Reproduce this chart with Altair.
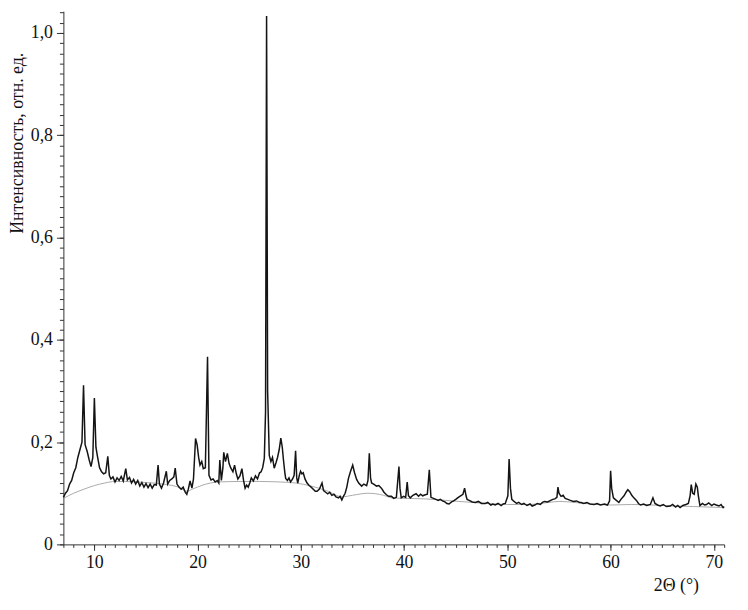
import altair as alt
import pandas as pd

# Main diffraction pattern (2Theta, intensity)
two_theta = [
    7.0, 7.2, 7.4, 7.6, 7.8, 8.0, 8.2, 8.4, 8.6, 8.8, 8.95, 9.1, 9.3, 9.5, 9.68, 9.85, 10.0, 10.15, 10.3, 10.5,
    10.7, 10.9, 11.1, 11.3, 11.45, 11.6, 11.8, 12.0, 12.2, 12.4, 12.6, 12.8, 13.04, 13.2, 13.4, 13.6, 13.8, 14.0,
    14.2, 14.4, 14.6, 14.8, 15.0, 15.2, 15.4, 15.6, 15.8, 16.0, 16.17, 16.3, 16.5, 16.7, 16.97, 17.1, 17.3, 17.5,
    17.7, 17.83, 18.0, 18.2, 18.4, 18.6, 18.8, 18.95, 19.1, 19.27, 19.45, 19.6, 19.8, 19.95, 20.1, 20.23, 20.4,
    20.55, 20.75, 20.96, 21.1, 21.3, 21.5, 21.7, 21.9, 22.05, 22.15, 22.3, 22.45, 22.53, 22.7, 22.88, 23.05, 23.2,
    23.42, 23.58, 23.75, 23.9, 24.1, 24.29, 24.45, 24.6, 24.75, 24.9, 25.05, 25.2, 25.4, 25.6, 25.8, 26.0, 26.15,
    26.3, 26.46, 26.58, 26.68, 26.78, 26.94, 27.1, 27.25, 27.42, 27.6, 27.74, 27.9, 28.06, 28.2, 28.3, 28.45,
    28.53, 28.7, 28.85, 29.0, 29.2, 29.35, 29.49, 29.6, 29.7, 29.85, 29.97, 30.1, 30.23, 30.4, 30.6, 30.8, 31.0,
    31.2, 31.4, 31.57, 31.8, 32.05, 32.2, 32.4, 32.6, 32.8, 33.0, 33.2, 33.4, 33.65, 33.8, 33.97, 34.15, 34.29,
    34.45, 34.61, 34.8, 35.02, 35.2, 35.4, 35.6, 35.89, 36.1, 36.37, 36.5, 36.63, 36.75, 36.85, 37.05, 37.33,
    37.55, 37.8, 38.05, 38.29, 38.5, 38.77, 39.0, 39.25, 39.5, 39.6, 39.72, 39.95, 40.15, 40.3, 40.42, 40.6,
    40.85, 41.16, 41.4, 41.6, 41.8, 42.05, 42.25, 42.44, 42.6, 42.85, 43.08, 43.3, 43.5, 43.72, 43.95, 44.15,
    44.35, 44.6, 44.8, 45.0, 45.25, 45.47, 45.7, 45.86, 46.0, 46.1, 46.3, 46.6, 46.9, 47.2, 47.5, 47.86, 48.1,
    48.4, 48.6, 48.82, 49.1, 49.4, 49.6, 49.8, 50.05, 50.17, 50.3, 50.43, 50.65, 50.9, 51.1, 51.39, 51.6, 51.9,
    52.2, 52.4, 52.66, 52.9, 53.2, 53.4, 53.6, 53.9, 54.2, 54.4, 54.6, 54.8, 54.9, 55.0, 55.2, 55.4, 55.6, 55.86,
    56.1, 56.4, 56.7, 57.0, 57.14, 57.4, 57.7, 58.0, 58.4, 58.7, 59.0, 59.4, 59.7, 59.9, 60.0, 60.1, 60.27, 60.5,
    60.8, 61.0, 61.3, 61.5, 61.67, 61.85, 62.05, 62.25, 62.5, 62.7, 62.9, 63.2, 63.5, 63.85, 64.1, 64.3, 64.55,
    64.8, 65.1, 65.4, 65.77, 66.0, 66.3, 66.5, 66.73, 67.0, 67.3, 67.53, 67.7, 67.81, 67.95, 68.1, 68.26, 68.4,
    68.5, 68.65, 68.9, 69.1, 69.28, 69.5, 69.8, 70.0, 70.24, 70.5, 70.7, 70.9, 71.0,
]
intensity = [
    0.092, 0.100, 0.105, 0.118, 0.125, 0.140, 0.150, 0.170, 0.185, 0.200, 0.311, 0.195, 0.182, 0.165, 0.152, 0.170, 0.286, 0.190, 0.172, 0.150,
    0.142, 0.138, 0.140, 0.172, 0.135, 0.128, 0.132, 0.122, 0.130, 0.125, 0.133, 0.124, 0.148, 0.126, 0.131, 0.120, 0.127, 0.118,
    0.125, 0.114, 0.121, 0.112, 0.119, 0.111, 0.118, 0.110, 0.117, 0.116, 0.155, 0.118, 0.110, 0.120, 0.143, 0.118, 0.125, 0.128,
    0.132, 0.149, 0.118, 0.112, 0.108, 0.112, 0.102, 0.098, 0.108, 0.124, 0.110, 0.128, 0.207, 0.195, 0.170, 0.155, 0.162,
    0.148, 0.150, 0.367, 0.135, 0.126, 0.128, 0.122, 0.125, 0.120, 0.165, 0.125, 0.150, 0.180, 0.162, 0.178, 0.158, 0.150,
    0.142, 0.155, 0.138, 0.128, 0.134, 0.148, 0.125, 0.110, 0.116, 0.112, 0.120, 0.130, 0.124, 0.134, 0.128, 0.140, 0.142,
    0.150, 0.168, 0.260, 1.033, 0.300, 0.174, 0.162, 0.170, 0.149, 0.160, 0.170, 0.185, 0.208, 0.190, 0.168, 0.140,
    0.129, 0.125, 0.130, 0.122, 0.128, 0.135, 0.183, 0.130, 0.120, 0.135, 0.143, 0.138, 0.140, 0.128, 0.120, 0.115, 0.112,
    0.108, 0.104, 0.104, 0.108, 0.120, 0.105, 0.102, 0.099, 0.102, 0.096, 0.098, 0.093, 0.091, 0.094, 0.087, 0.095, 0.100,
    0.112, 0.129, 0.142, 0.155, 0.140, 0.127, 0.120, 0.114, 0.118, 0.115, 0.125, 0.178, 0.130, 0.120, 0.118, 0.114,
    0.115, 0.110, 0.102, 0.097, 0.094, 0.094, 0.090, 0.092, 0.152, 0.110, 0.091, 0.094, 0.092, 0.122, 0.095, 0.091,
    0.096, 0.099, 0.094, 0.098, 0.095, 0.097, 0.098, 0.146, 0.092, 0.090, 0.088, 0.086, 0.088, 0.085, 0.083, 0.080,
    0.079, 0.083, 0.085, 0.088, 0.092, 0.095, 0.098, 0.110, 0.095, 0.088, 0.086, 0.083, 0.082, 0.084, 0.080, 0.080, 0.082,
    0.077, 0.079, 0.077, 0.080, 0.076, 0.079, 0.080, 0.095, 0.167, 0.110, 0.088, 0.084, 0.080, 0.082, 0.078, 0.080, 0.076,
    0.079, 0.075, 0.077, 0.080, 0.078, 0.082, 0.084, 0.083, 0.086, 0.088, 0.089, 0.092, 0.112, 0.100, 0.094, 0.096, 0.090, 0.088,
    0.086, 0.084, 0.085, 0.082, 0.082, 0.080, 0.082, 0.079, 0.078, 0.080, 0.077, 0.079, 0.077, 0.085, 0.144, 0.110, 0.091, 0.087,
    0.082, 0.088, 0.095, 0.102, 0.107, 0.103, 0.096, 0.091, 0.086, 0.080, 0.077, 0.079, 0.076, 0.078, 0.091, 0.080, 0.077,
    0.075, 0.078, 0.074, 0.075, 0.078, 0.073, 0.076, 0.072, 0.076, 0.078, 0.080, 0.095, 0.117, 0.100, 0.098, 0.118, 0.112,
    0.095, 0.076, 0.080, 0.077, 0.078, 0.081, 0.076, 0.079, 0.077, 0.075, 0.078, 0.072, 0.074,
]

# Smooth background (amorphous halo) curve
bg_theta = [7, 8, 9, 10, 11, 12, 13, 15, 17, 18, 19, 19.5, 20.5, 22, 24, 26, 28, 29.5, 31, 32.5, 34, 35, 36.5,
            38, 38.8, 40, 42, 44, 46, 48, 50, 52, 54, 55, 56, 58, 60, 62, 64, 66, 68, 71]
bg_intensity = [0.090, 0.100, 0.108, 0.115, 0.120, 0.123, 0.123, 0.121, 0.117, 0.113, 0.104, 0.108, 0.116, 0.122,
                0.123, 0.123, 0.122, 0.120, 0.114, 0.105, 0.093, 0.096, 0.100, 0.096, 0.091, 0.090, 0.089, 0.086,
                0.083, 0.080, 0.078, 0.078, 0.082, 0.084, 0.083, 0.079, 0.077, 0.078, 0.077, 0.075, 0.074, 0.072]

x_major = [10, 20, 30, 40, 50, 60, 70]
y_major = [0, 0.2, 0.4, 0.6, 0.8, 1.0]
x_minor = [v for v in range(7, 72)]
y_minor = [round(i * 0.02, 2) for i in range(0, 53)]

FONT = "Liberation Serif"

main_df = pd.DataFrame({"t": two_theta, "i": intensity})
bg_df = pd.DataFrame({"t": bg_theta, "i": bg_intensity})

xscale = alt.Scale(domain=[7, 71], nice=False, zero=False)
yscale = alt.Scale(domain=[0, 1.0426], nice=False)

main = alt.Chart(main_df).mark_line(color="#141414", strokeWidth=1.5, interpolate="linear").encode(
    x=alt.X("t:Q", scale=xscale,
            axis=alt.Axis(values=x_major, format="d", tickSize=6, labelPadding=3, orient="bottom",
                          title="2Θ (°)", titleX=642, titleY=47, titleAlign="right",
                          titleBaseline="alphabetic", titleAnchor="start")),
    y=alt.Y("i:Q", scale=yscale,
            axis=alt.Axis(values=y_major, tickSize=7, labelPadding=4, orient="left",
                          labelExpr="datum.value == 0 ? '0' : replace(format(datum.value, '.1f'), '.', ',')",
                          title="Интенсивность, отн. ед.", titleAngle=270, titleX=-41, titleY=133,
                          titleAlign="center", titleBaseline="alphabetic", titleAnchor="start")),
)

bg = alt.Chart(bg_df).mark_line(color="#a0a0a0", strokeWidth=0.9, interpolate="monotone").encode(
    x=alt.X("t:Q", scale=xscale,
            axis=alt.Axis(values=x_minor, labels=False, tickSize=3, domain=False, title=None, orient="bottom")),
    y=alt.Y("i:Q", scale=yscale,
            axis=alt.Axis(values=y_minor, labels=False, tickSize=4, domain=False, title=None, orient="left")),
)

chart = alt.layer(bg, main).resolve_axis(x="independent", y="independent").properties(
    width=668, height=539, autosize="none",
    padding={"left": 56, "top": 0, "right": 16, "bottom": 55},
).configure_axis(
    labelFont=FONT, titleFont=FONT, labelFontSize=18, titleFontSize=18, titleFontWeight="normal",
    labelColor="#111", titleColor="#111", domainColor="#333", tickColor="#333", grid=False,
    domainWidth=1, tickWidth=1,
).configure_view(stroke=None)

chart.save("out.html", embed_options={"renderer": "svg", "actions": False})
